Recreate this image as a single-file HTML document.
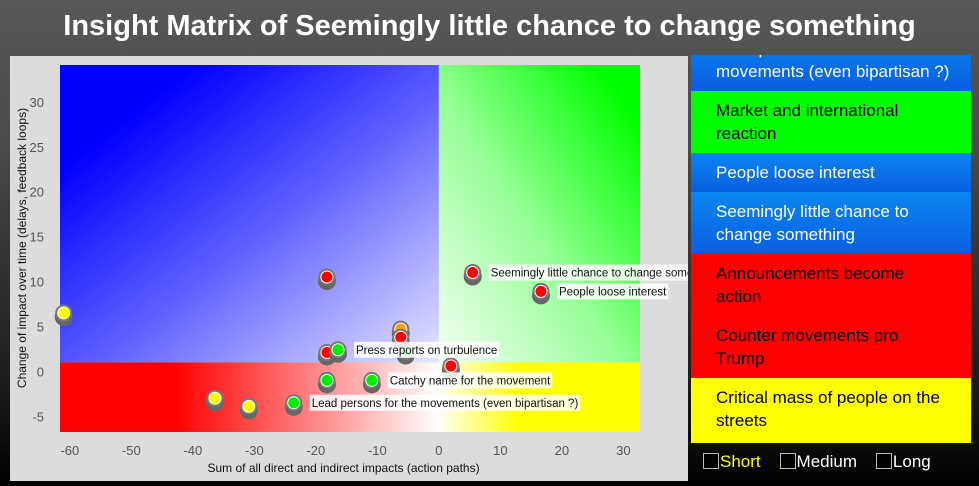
<!DOCTYPE html>
<html><head><meta charset="utf-8"><style>
html,body{margin:0;padding:0}
body{width:979px;height:486px;overflow:hidden;background:linear-gradient(#585858,#4a4a4a 30%,#1a1a1a 80%,#000);font-family:"Liberation Sans",sans-serif;position:relative}
#title{position:absolute;left:0;top:10px;width:979px;text-align:center;color:#fff;font-weight:bold;font-size:29px}
#panel{position:absolute;left:10px;top:56px;width:678px;height:425px;background:#dcdcdc}
#legend{position:absolute;left:691px;top:55px;width:280px;height:388px;overflow:hidden}
.it{position:absolute;left:0;width:280px;box-sizing:border-box;padding-left:25px;font-size:17px;line-height:23px}
.blue{background:linear-gradient(#0a86f0,#0a5fe0);color:#fff}
#bottom{position:absolute;left:703px;top:452px;font-size:17px;color:#fff}
.cb{display:inline-block;width:14px;height:14px;border:1px solid #bbb;background:#000;vertical-align:-2px;margin-right:1px}
</style></head><body>
<div id="title">Insight Matrix of Seemingly little chance to change something</div>
<div id="panel"></div>
<svg id="chart" width="979" height="486" style="position:absolute;left:0;top:0">
<defs>
<linearGradient id="gTL" x1="0" y1="0" x2="1" y2="1"><stop offset="0.18" stop-color="#0000ff"/><stop offset="0.55" stop-color="#6060ff"/><stop offset="1" stop-color="#e6e6ff"/></linearGradient>
<linearGradient id="gTR" x1="1" y1="0" x2="0" y2="1"><stop offset="0.1" stop-color="#00ff00"/><stop offset="0.55" stop-color="#98ff98"/><stop offset="1" stop-color="#f4fff4"/></linearGradient>
<linearGradient id="gBL" x1="0" y1="0" x2="1" y2="0"><stop offset="0.3" stop-color="#ff0000"/><stop offset="0.7" stop-color="#ff9090"/><stop offset="1" stop-color="#ffffff"/></linearGradient>
<linearGradient id="gBR" x1="1" y1="0" x2="0" y2="0"><stop offset="0.6" stop-color="#ffff00"/><stop offset="1" stop-color="#fffff4"/></linearGradient>
<clipPath id="clip"><rect x="10" y="56" width="678" height="425"/></clipPath>
</defs>
<g id="quads"></g><g id="axes"></g><g id="marks" clip-path="url(#clip)"></g>
</svg>
<div id="legend">
<div class="it blue" style="top:-26px;height:62px;padding-top:8px">Lead persons for the<br>movements (even bipartisan ?)</div>
<div class="it" style="top:36px;height:62px;padding-top:8px;background:#00ff00">Market and international<br>reaction</div>
<div class="it blue" style="top:98px;height:39px;padding-top:8px">People loose interest</div>
<div class="it blue" style="top:137px;height:62px;padding-top:8px">Seemingly little chance to<br>change something</div>
<div class="it" style="top:199px;height:62px;padding-top:8px;background:#ff0000">Announcements become<br>action</div>
<div class="it" style="top:261px;height:62px;padding-top:8px;background:#ff0000">Counter movements pro<br>Trump</div>
<div class="it" style="top:323px;height:65px;padding-top:8px;background:#ffff00">Critical mass of people on the<br>streets</div>
</div>
<div id="bottom">
<span><span class="cb"></span><span style="color:#ff0">Short</span></span>&nbsp;&nbsp;&nbsp;
<span><span class="cb"></span>Medium</span>&nbsp;&nbsp;&nbsp;
<span><span class="cb"></span>Long</span>
</div>
<script>
const xVals=[-61,-36.4,-30.9,-23.6,-18.2,-18.2,-16.4,-18.2,-10.9,-5.4,-6.2,-6.2,1.95,5.5,16.6];
const yVals=[6.5,-3.0,-3.9,-3.5,-1.0,2.1,2.4,10.5,-1.0,2.2,4.7,3.8,0.6,11.0,8.9];
const colors=["#ffff00","#ffff00","#ffff00","#00ee00","#00ee00","#ff0000","#00ee00","#ff0000","#00ee00","#00ee00","#ffa000","#ff0000","#ff0000","#ff0000","#ff0000"];
const labels=["","","","Lead persons for the movements (even bipartisan ?)","","","Press reports on turbulence","","Catchy name for the movement","","","","","Seemingly little chance to change something","People loose interest"];
const xTicks=[-60,-50,-40,-30,-20,-10,0,10,20,30];
const yTicks=[-5,0,5,10,15,20,25,30];
const splitX=0, splitY=1;
const X0=60,X1=640,Y0=65,Y1=432,xMin=-61.6,xMax=32.7,yMin=-6.75,yMax=34.1;
const sx=v=>X0+(v-xMin)/(xMax-xMin)*(X1-X0);
const sy=v=>Y1-(v-yMin)/(yMax-yMin)*(Y1-Y0);
const NS="http://www.w3.org/2000/svg";
function mk(t,a,p){const e=document.createElementNS(NS,t);for(const k in a)e.setAttribute(k,a[k]);p.appendChild(e);return e;}
const q=document.getElementById('quads'),ax=document.getElementById('axes'),m=document.getElementById('marks');
const cx=sx(splitX),cy=sy(splitY);
let r;
r=mk('rect',{x:X0,y:Y0,width:cx-X0,height:cy-Y0,fill:'url(#gTL)'},q);

r=mk('rect',{x:cx,y:Y0,width:X1-cx,height:cy-Y0,fill:'url(#gTR)'},q);

r=mk('rect',{x:X0,y:cy,width:cx-X0,height:Y1-cy,fill:'url(#gBL)'},q);

r=mk('rect',{x:cx,y:cy,width:X1-cx,height:Y1-cy,fill:'url(#gBR)'},q);

xTicks.forEach(v=>{const t=mk('text',{x:sx(v),y:455,'text-anchor':'middle','font-size':13,fill:'#555'},ax);t.textContent=v;
});
yTicks.forEach(v=>{const t=mk('text',{x:44,y:sy(v)+5,'text-anchor':'end','font-size':13,fill:'#555'},ax);t.textContent=v;
});
let t=mk('text',{x:sx(-15.5),y:472,'text-anchor':'middle','font-size':12,fill:'#111'},ax);
t.textContent='Sum of all direct and indirect impacts (action paths)';

t=mk('text',{x:0,y:0,'text-anchor':'middle','font-size':12,fill:'#111',transform:'translate(26,248) rotate(-90)'},ax);
t.textContent='Change of impact over time (delays, feedback loops)';

xVals.forEach((xv,i)=>{
 const px=sx(xv),py=sy(yVals[i]);
 const g=mk('g',{},m);
 
 mk('circle',{cx:px,cy:py+4,r:9,fill:'#666'},g);
 mk('circle',{cx:px,cy:py,r:8.5,fill:'#777'},g);
 mk('circle',{cx:px,cy:py,r:6.5,fill:'#fff'},g);
 mk('circle',{cx:px,cy:py,r:5.5,fill:colors[i]},g);
});
xVals.forEach((xv,i)=>{
 if(!labels[i])return;
 const px=sx(xv)+16,py=sy(yVals[i]);
 const g=mk('g',{},m);
 
 const bg=mk('rect',{x:px,y:py-8,width:10,height:16,fill:'rgba(255,255,255,0.85)'},g);
 const tx=mk('text',{x:px+2,y:py+4,'font-size':11.5,fill:'#111'},g);
 tx.textContent=labels[i];
 bg.setAttribute('width',tx.getComputedTextLength()+4);
});
</script>
</body></html>
